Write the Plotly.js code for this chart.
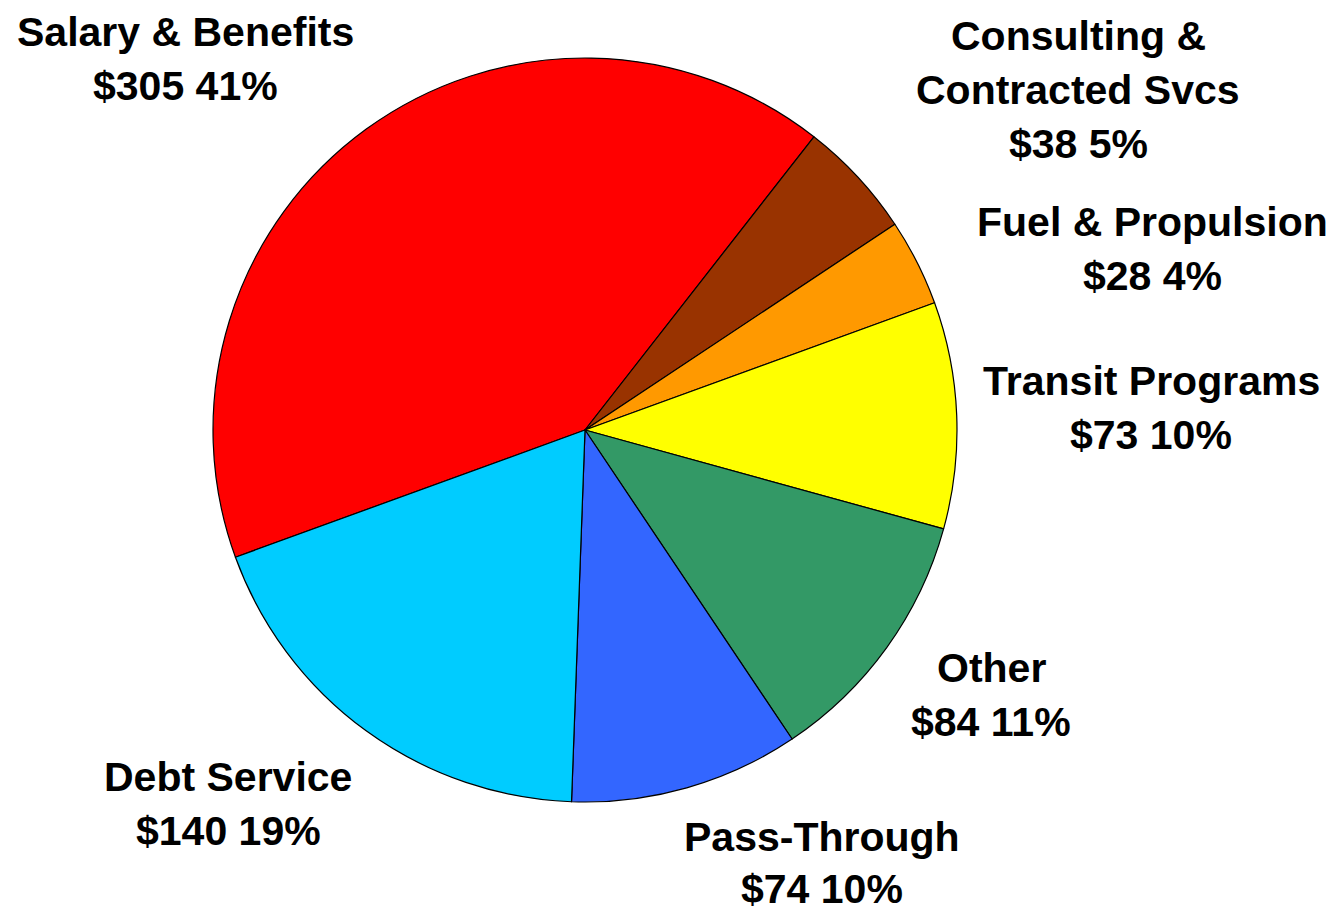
<!DOCTYPE html>
<html><head><meta charset="utf-8">
<script src="https://cdn.plot.ly/plotly-3.0.1.min.js"></script>
<style>html,body{margin:0;padding:0;background:#fff}#chart{width:1334px;height:911px}</style>
</head><body><div id="chart"></div>
<script>
const categories = ["Salary & Benefits","Consulting & Contracted Svcs","Fuel & Propulsion","Transit Programs","Other","Pass-Through","Debt Service"];
const values = [305, 38, 28, 73, 84, 74, 140];
const colors = ["#FF0000","#993300","#FF9900","#FFFF00","#339966","#3366FF","#00CCFF"];
const labelLines = [
  ["Salary & Benefits"],
  ["Consulting &","Contracted Svcs"],
  ["Fuel & Propulsion"],
  ["Transit Programs"],
  ["Other"],
  ["Pass-Through"],
  ["Debt Service"]
];
const total = values.reduce((a,b)=>a+b,0);
// label anchor positions (pixels: center x, first line y)
const labelPos = [[185,32],[1078,36],[1152,222],[1151,381],[991,668],[822,837],[228,777]];
const W=1334,H=911;
const annotations=[];
categories.forEach((c,i)=>{
  const lines = labelLines[i].concat(["$"+values[i]+" "+Math.round(values[i]/total*100)+"%"]);
  const LH = (i===5) ? 52 : 54;
  lines.forEach((t,j)=>{
    annotations.push({text:t,x:labelPos[i][0]/W,y:1-(labelPos[i][1]+j*LH)/H,xref:'paper',yref:'paper',
      xanchor:'center',yanchor:'middle',showarrow:false,
      font:{family:'Liberation Sans, Arial, sans-serif',size:41,color:'#000',weight:'bold'}});
  });
});
const cx=585,cy=430,r=372;
Plotly.newPlot('chart',[{
  type:'pie',labels:categories,values:values,sort:false,direction:'clockwise',rotation:-110,
  marker:{colors:colors,line:{color:'#000',width:1.2}},textinfo:'none',hoverinfo:'none',
  domain:{x:[(cx-r)/W,(cx+r)/W],y:[(H-cy-r)/H,(H-cy+r)/H]}
}],{width:W,height:H,margin:{l:0,r:0,t:0,b:0},showlegend:false,paper_bgcolor:'#fff',annotations:annotations},{displayModeBar:false,staticPlot:true});
</script></body></html>
